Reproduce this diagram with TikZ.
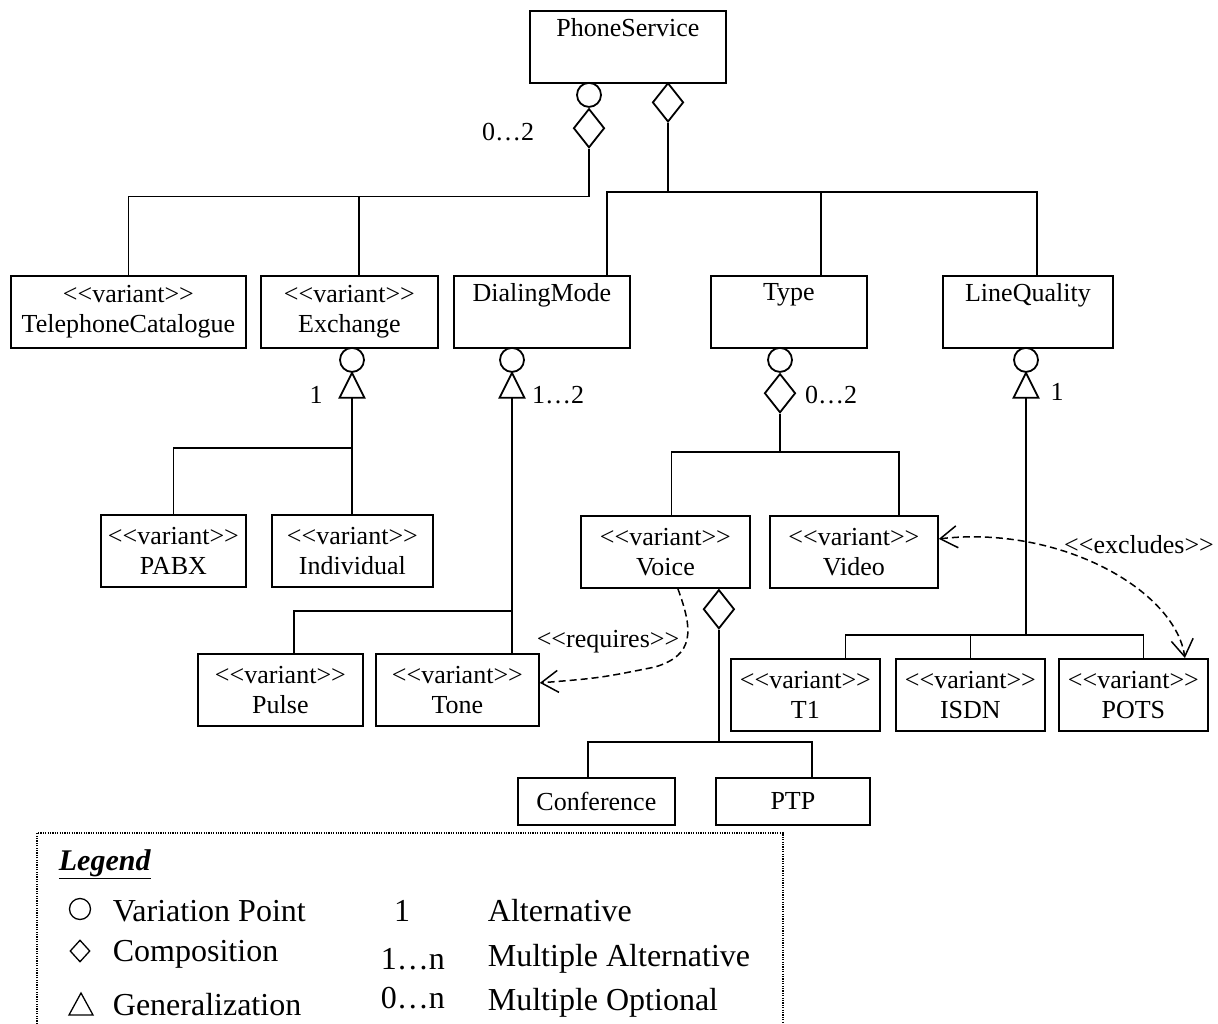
\documentclass[tikz,border=0pt]{standalone}
\usepackage{fontspec}
\setmainfont{Liberation Serif}
\usetikzlibrary{shapes.geometric,arrows.meta}
\newcommand{\stype}[1]{<\kern0pt<#1>\kern0pt>}

\begin{document}
\begin{tikzpicture}[x=1pt,y=-1pt,line width=1.8pt,
    every node/.style={font=\fontsize{26}{30}\selectfont},
    cls/.style={draw,anchor=north west,align=center,inner sep=0pt,minimum height=72pt},
    leaf/.style={draw,anchor=north west,inner sep=0pt,minimum height=47pt},
    vpoint/.style={draw,circle,inner sep=0pt,minimum size=24pt,anchor=north},
    comp/.style={draw,diamond,inner sep=0pt,minimum width=31pt,minimum height=39pt,anchor=north},
    dep/.style={dash pattern=on 7pt off 4pt,line width=1.5pt},
    barb/.tip={Straight Barb[length=17pt,width=22pt]},
    lgd/.style={font=\fontsize{32}{36}\selectfont,anchor=base west,inner sep=0pt}]
    \useasboundingbox (0,0) rectangle (1218,1024);

    \node[cls,minimum width=196pt] (ps) at (529,10) {PhoneService\\\strut};
    \node[cls,minimum width=235pt] (tc) at (10,275) {\stype{variant}\\TelephoneCatalogue};
    \node[cls,minimum width=177pt] (ex) at (260,275) {\stype{variant}\\Exchange};
    \node[cls,minimum width=176pt] (dm) at (453,275) {DialingMode\\\strut};
    \node[cls,minimum width=156pt] (ty) at (710,275) {Type\\\strut};
    \node[cls,minimum width=170pt] (lq) at (942,275) {LineQuality\\\strut};
    \node[cls,minimum width=145pt] (pabx) at (100,514) {\stype{variant}\\PABX};
    \node[cls,minimum width=161pt] (ind) at (271,514) {\stype{variant}\\Individual};
    \node[cls,minimum width=169pt] (voice) at (580,515) {\stype{variant}\\Voice};
    \node[cls,minimum width=168pt] (video) at (769,515) {\stype{variant}\\Video};
    \node[cls,minimum width=165pt] (pulse) at (197,653) {\stype{variant}\\Pulse};
    \node[cls,minimum width=163pt] (tone) at (375,653) {\stype{variant}\\Tone};
    \node[cls,minimum width=149pt] (t1) at (730,658) {\stype{variant}\\T1};
    \node[cls,minimum width=149pt] (isdn) at (895,658) {\stype{variant}\\ISDN};
    \node[cls,minimum width=149pt] (pots) at (1058,658) {\stype{variant}\\POTS};
    \node[leaf,minimum width=157pt] (conf) at (517,777) {Conference};
    \node[leaf,minimum width=154pt] (ptp) at (715,777) {PTP};

    \node[vpoint] (vp0) at (589,82) {};
    \node[comp] (c0) at (vp0.south) {};
    \draw (c0.south) --++ (0,48) coordinate (j0) -| (tc.north);
    \draw (j0) -| ([xshift=9.5pt]ex.north);
    \node (m0) at (508,132) {0…2};

    \node[comp] (c1) at (668,82) {};
    \draw (c1.south) --++ (0,69) coordinate (j1) -| ([xshift=65pt]dm.north);
    \draw (j1) -| ([xshift=32pt]ty.north);
    \draw (j1) -| ([xshift=9pt]lq.north);

    \node[vpoint] (vp1) at (352,347) {};
    \draw (vp1.south) --++ (12.5,25) --++ (-25,0) -- cycle;
    \path (vp1.south) ++(0,25) coordinate (g1);
    \draw (g1) --++ (0,50) coordinate (j2) -| (pabx.north);
    \draw (j2) -- (j2 |- ind.north);
    \node (m1) at (316,395) {1};

    \node[vpoint] (vp2) at (512,347) {};
    \draw (vp2.south) --++ (12.5,25) --++ (-25,0) -- cycle;
    \path (vp2.south) ++(0,25) coordinate (g2);
    \draw (g2) --++ (0,213) coordinate (j3) -| ([xshift=13.5pt]pulse.north);
    \draw (j3) -- (j3 |- tone.north);
    \node (m2) at (558,395) {1…2};

    \node[vpoint] (vp3) at (780,347) {};
    \node[comp] (c2) at (vp3.south) {};
    \draw (c2.south) --++ (0,38) coordinate (j4) -| ([xshift=6pt]voice.north);
    \draw (j4) -| ([xshift=45pt]video.north);
    \node (m3) at (831,395) {0…2};

    \node[vpoint] (vp4) at (1026,347) {};
    \draw (vp4.south) --++ (12.5,25) --++ (-25,0) -- cycle;
    \path (vp4.south) ++(0,25) coordinate (g4);
    \draw (g4) --++ (0,237) coordinate (j5) -| ([xshift=40pt]t1.north);
    \draw (j5) -| (isdn.north);
    \draw (j5) -| ([xshift=10pt]pots.north);
    \node (m4) at (1057,392) {1};

    \node[comp] (c3) at ([xshift=53.5pt]voice.south) {};
    \draw (c3.south) --++ (0,112) coordinate (j6) -| ([xshift=-8.5pt]conf.north);
    \draw (j6) -| ([xshift=19pt]ptp.north);

    \draw[dep,-barb] ([xshift=12.5pt]voice.south) .. controls (693,630) and (695,655) .. (655,667)
          .. controls (600,678) .. ([yshift=7pt]tone.east);
    \node (rq) at (608,642) {\stype{requires}};
    \draw[dep,barb-barb] ([yshift=13pt]video.east) .. controls (1060,525) and (1175,590)
          .. ([xshift=51.5pt]pots.north);
    \node (xc) at (1139,545) {\stype{excludes}};

    \draw[line width=1.2pt,dash pattern=on 1.2pt off 1.2pt] (37,1024) |- (783,833) -- (783,1024);
    \node[lgd,font=\fontsize{30}{36}\selectfont\bfseries\itshape] (lt) at (58,870) {\underline{Legend}};
    \node[draw,circle,inner sep=0pt,minimum size=21pt,line width=1.3pt] (s1) at (80,909) {};
    \node[draw,diamond,inner sep=0pt,minimum width=20pt,minimum height=22pt,line width=1.3pt] (s2) at (80,951) {};
    \draw[line width=1.3pt] (69,1015) --++ (24,0) --++ (-12,-22) -- cycle;
    \node[lgd] (l1) at (112,921) {Variation Point};
    \node[lgd] (l2) at (112,961) {Composition};
    \node[lgd] (l3) at (112,1015) {Generalization};
    \node[lgd,anchor=base] (n1) at (402,921) {1};
    \node[lgd] (n2) at (380,969) {1…n};
    \node[lgd] (n3) at (380,1008) {0…n};
    \node[lgd] (d1) at (487,921) {Alternative};
    \node[lgd] (d2) at (487,966) {Multiple Alternative};
    \node[lgd] (d3) at (487,1010) {Multiple Optional};
\end{tikzpicture}
\end{document}
